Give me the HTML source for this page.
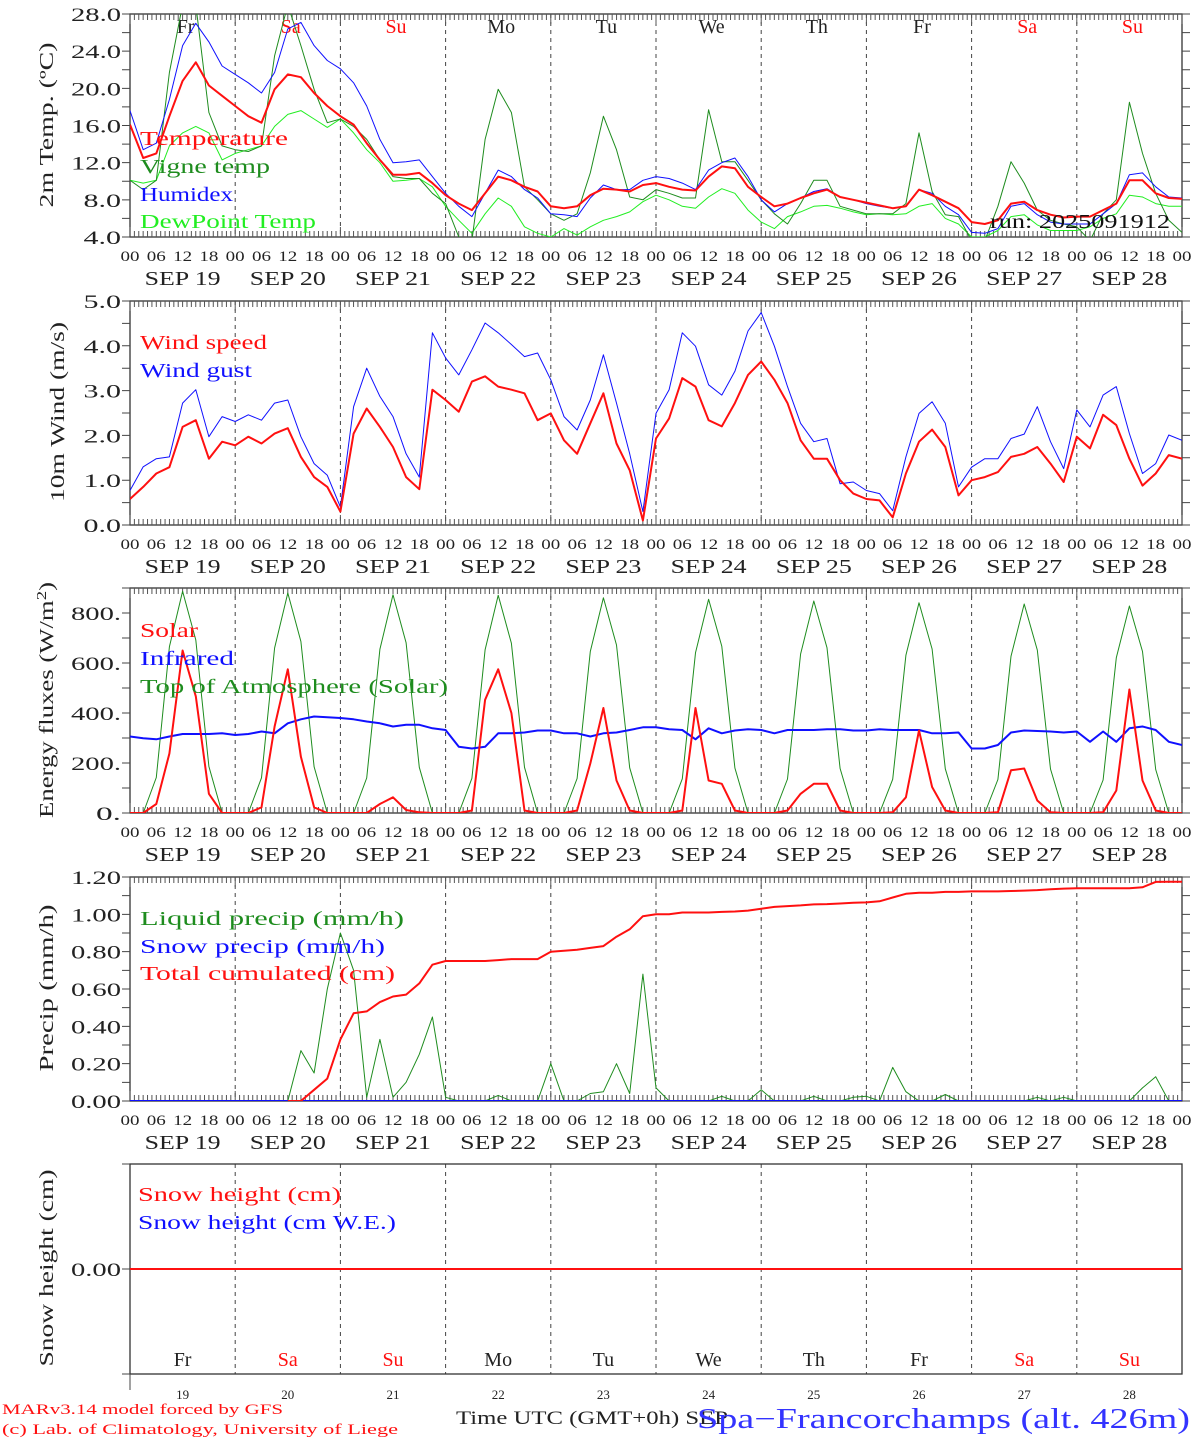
<!DOCTYPE html>
<html>
<head>
<meta charset="utf-8">
<style>
html,body{margin:0;padding:0;background:#fff;}
svg{display:block;font-family:"Liberation Serif",serif;}
</style>
</head>
<body>
<svg id="chart" width="1194" height="1440" viewBox="0 0 1194 1440" xmlns="http://www.w3.org/2000/svg">
<rect x="0" y="0" width="1194" height="1440" fill="#fff"/>
</svg>
<script>
// ---- data (3-hourly, 19 Sep 00 UTC .. 29 Sep 00 UTC) ----
const dayNames = ['Fr','Sa','Su','Mo','Tu','We','Th','Fr','Sa','Su'];
const dateLabels = ['SEP 19','SEP 20','SEP 21','SEP 22','SEP 23','SEP 24','SEP 25','SEP 26','SEP 27','SEP 28'];
const dayNumbers = ['19','20','21','22','23','24','25','26','27','28'];
const hourLabels = ['00','06','12','18'];
const tempTicks = ['28.0','24.0','20.0','16.0','12.0','8.0','4.0'];
const windTicks = ['5.0','4.0','3.0','2.0','1.0','0.0'];
const energyTicks = ['800.','600.','400.','200.','0.'];
const precipTicks = ['1.20','1.00','0.80','0.60','0.40','0.20','0.00'];

const temperature = [16.1,12.5,13.0,17.0,20.8,22.8,20.3,19.2, 18.1,17.0,16.3,19.9,21.5,21.2,19.5,18.1, 17.0,16.1,14.1,12.3,10.7,10.7,10.9,9.8, 8.5,7.6,6.9,8.7,10.5,10.1,9.4,8.9, 7.3,7.1,7.3,8.5,9.2,9.1,8.9,9.6, 9.8,9.4,9.1,9.0,10.5,11.6,11.4,9.4, 8.3,7.3,7.6,8.2,8.7,9.1,8.3,8.0, 7.7,7.4,7.1,7.3,9.1,8.5,7.8,7.1, 5.6,5.4,5.8,7.6,7.8,6.9,6.4,6.1, 6.2,6.2,6.9,7.6,10.1,10.1,8.7,8.2, 8.1];
const vigneTemp = [10.1,9.1,10.1,21.7,29,29,17.4,13.8, 13.4,13.2,13.8,23.5,29,24.6,19.9,16.3, 16.7,15.9,14.5,12.3,10.5,10.3,10.3,8.7, 7.6,4.0,3.6,14.5,19.9,17.4,9.4,8.0, 6.5,5.8,6.5,10.9,17.0,13.4,8.3,8.0, 9.1,8.7,8.2,8.2,17.7,12.1,12.1,10.1, 8.0,6.5,5.4,7.6,10.1,10.1,7.3,6.9, 6.5,6.5,6.5,7.6,15.2,8.9,6.4,6.2, 3.6,3.6,7.3,12.1,9.8,6.9,5.8,5.4, 5.1,3.6,6.5,8.0,18.5,13.0,8.7,5.8, 4.5];
const humidex = [17.6,13.4,14.1,18.8,24.6,27.0,25.0,22.4, 21.5,20.6,19.5,21.7,26.4,27.1,24.6,23.0, 22.1,20.6,18.1,14.5,12.0,12.1,12.3,10.5, 8.7,7.3,6.2,8.7,11.2,10.5,9.1,8.2, 6.5,6.4,6.2,8.2,9.6,9.1,9.1,10.1, 10.5,10.3,9.8,9.1,11.2,12.0,12.5,10.5, 8.0,6.7,7.6,8.2,8.9,9.2,8.3,8.0, 7.6,7.3,7.1,7.3,9.1,8.7,7.3,6.4, 4.5,4.4,4.9,7.3,7.6,6.4,5.6,5.4, 5.4,5.4,6.5,7.6,10.7,10.9,9.4,8.3, 8.2];
const dewPoint = [10.1,9.8,10.1,13.8,15.2,15.9,15.2,12.3, 13.0,13.4,13.8,15.9,17.2,17.6,16.7,15.8, 16.7,15.2,13.4,12.0,10.0,10.1,10.3,9.4, 7.3,5.8,4.4,6.5,8.2,7.3,5.1,4.4, 4.0,4.9,4.2,5.1,5.8,6.2,6.7,7.8, 8.5,8.0,7.3,7.1,8.3,9.2,8.7,6.9, 5.6,4.9,6.2,6.7,7.3,7.4,7.1,6.7, 6.4,6.5,6.4,6.5,7.3,7.6,6.0,5.4, 4.0,4.0,4.7,6.2,6.4,5.3,4.7,4.7, 4.7,5.1,6.0,6.5,8.5,8.3,7.6,7.3, 7.3];

const windSpeed = [0.58,0.85,1.15,1.29,2.19,2.34,1.48,1.86, 1.78,1.97,1.82,2.04,2.16,1.52,1.07,0.85, 0.3,2.04,2.6,2.19,1.74,1.07,0.8,3.02, 2.79,2.53,3.2,3.32,3.09,3.02,2.94,2.34, 2.49,1.89,1.59,2.27,2.94,1.82,1.22,0.1, 1.93,2.38,3.28,3.09,2.34,2.2,2.72,3.35, 3.65,3.24,2.72,1.89,1.48,1.48,1.0,0.7, 0.58,0.55,0.17,1.15,1.86,2.13,1.74,0.66, 1.0,1.07,1.18,1.52,1.59,1.74,1.37,0.96, 1.97,1.71,2.46,2.23,1.48,0.88,1.15,1.56, 1.48];
const windGust = [0.77,1.3,1.48,1.52,2.72,3.02,1.97,2.42, 2.31,2.46,2.34,2.72,2.79,1.97,1.37,1.11, 0.4,2.64,3.5,2.87,2.42,1.59,1.07,4.29, 3.73,3.35,3.91,4.51,4.29,4.03,3.76,3.84, 3.24,2.42,2.12,2.79,3.8,2.72,1.59,0.3, 2.49,3.02,4.29,3.99,3.13,2.9,3.43,4.33, 4.74,3.99,3.09,2.27,1.86,1.93,0.92,0.96, 0.77,0.7,0.32,1.52,2.49,2.75,2.27,0.85, 1.29,1.48,1.48,1.93,2.03,2.64,1.86,1.26, 2.57,2.19,2.9,3.09,2.04,1.15,1.37,2.01, 1.89];

const solar = [0,0,36,238,650,467,77,0, 0,0,23,346,575,225,23,0, 0,0,0,36,63,12,3,0, 0,0,10,453,575,400,10,0, 0,0,10,198,420,130,10,0, 0,0,10,420,130,117,10,0, 0,0,10,77,117,117,10,0, 0,0,3,63,330,104,10,0, 0,0,3,171,178,50,3,0, 0,0,3,90,494,130,10,0, 0];
const infrared = [306,299,295,306,316,316,316,319, 312,316,326,319,359,375,386,383, 380,375,366,359,346,353,353,339, 332,265,258,265,319,319,322,330, 330,319,319,306,319,322,332,343, 343,335,332,295,339,319,330,335, 332,319,332,332,332,335,335,330, 330,335,332,332,332,319,319,322, 258,258,272,322,330,328,326,322, 326,285,326,285,339,346,332,285, 272];
const topOfAtmosphere = [0,0,142,665,887,692,186,0, 0,0,141,660,880,686,185,0, 0,0,140,655,873,681,183,0, 0,0,139,653,871,679,183,0, 0,0,138,646,861,672,181,0, 0,0,137,641,855,667,180,0, 0,0,136,636,848,661,178,0, 0,0,135,631,841,656,177,0, 0,0,134,627,836,652,176,0, 0,0,132,621,828,646,174,0, 0];

const liquidPrecip = [0,0,0,0,0,0,0,0, 0,0,0,0,0,0.27,0.15,0.6, 0.9,0.7,0.02,0.33,0.02,0.1,0.25,0.45, 0.02,0,0,0,0.03,0,0,0, 0.2,0,0,0.04,0.05,0.2,0.04,0.68, 0.07,0,0,0,0,0.025,0,0, 0.06,0,0,0,0.025,0,0,0.02, 0.025,0,0.18,0.05,0,0,0.035,0, 0,0,0,0,0,0.02,0,0.02, 0,0,0,0,0,0.07,0.13,0, 0];
const snowPrecip = [0,0,0,0,0,0,0,0, 0,0,0,0,0,0,0,0, 0,0,0,0,0,0,0,0, 0,0,0,0,0,0,0,0, 0,0,0,0,0,0,0,0, 0,0,0,0,0,0,0,0, 0,0,0,0,0,0,0,0, 0,0,0,0,0,0,0,0, 0,0,0,0,0,0,0,0, 0,0,0,0,0,0,0,0, 0];
const totalCumulated = [0,0,0,0,0,0,0,0, 0,0,0,0,0,0,0.06,0.12, 0.33,0.47,0.48,0.53,0.56,0.57,0.63,0.73, 0.75,0.75,0.75,0.75,0.755,0.76,0.76,0.76, 0.80,0.805,0.81,0.82,0.83,0.88,0.92,0.99, 1.0,1.0,1.01,1.01,1.01,1.013,1.015,1.02, 1.03,1.04,1.044,1.048,1.053,1.055,1.058,1.062, 1.064,1.07,1.09,1.11,1.116,1.116,1.12,1.12, 1.123,1.123,1.123,1.125,1.127,1.13,1.134,1.138, 1.14,1.14,1.14,1.14,1.14,1.145,1.174,1.175, 1.175];
const snowHeight = [0,0,0,0,0,0,0,0, 0,0,0,0,0,0,0,0, 0,0,0,0,0,0,0,0, 0,0,0,0,0,0,0,0, 0,0,0,0,0,0,0,0, 0,0,0,0,0,0,0,0, 0,0,0,0,0,0,0,0, 0,0,0,0,0,0,0,0, 0,0,0,0,0,0,0,0, 0,0,0,0,0,0,0,0, 0];
const snowHeightWE = [0,0,0,0,0,0,0,0, 0,0,0,0,0,0,0,0, 0,0,0,0,0,0,0,0, 0,0,0,0,0,0,0,0, 0,0,0,0,0,0,0,0, 0,0,0,0,0,0,0,0, 0,0,0,0,0,0,0,0, 0,0,0,0,0,0,0,0, 0,0,0,0,0,0,0,0, 0,0,0,0,0,0,0,0, 0];

// ---- layout ----
const NS = 'http://www.w3.org/2000/svg';
const svg = document.getElementById('chart');
const X0 = 130, X1 = 1182, NSTEP = 80, DAYW = (X1 - X0) / 10;
function xs(i){ return X0 + i * (X1 - X0) / NSTEP; }
function mk(tag, attrs, parent){
  const e = document.createElementNS(NS, tag);
  for (const k in attrs) e.setAttribute(k, attrs[k]);
  (parent || svg).appendChild(e);
  return e;
}
function ys(p, v){ return p.bot - (v - p.min) / (p.max - p.min) * (p.bot - p.top); }

const P1 = {top:14, bot:237, min:4, max:28, minor:2, major:4, ticks:tempTicks, name:'temperature-panel'};
const P2 = {top:301, bot:525, min:0, max:5, minor:0.5, major:1, ticks:windTicks, name:'wind-panel'};
const P3 = {top:588, bot:813, min:0, max:900, minor:100, major:200, ticks:energyTicks, name:'energy-panel'};
const P4 = {top:877, bot:1101, min:0, max:1.2, minor:0.1, major:0.2, ticks:precipTicks, name:'precip-panel'};
const P5 = {top:1164, bot:1374, min:-1, max:1, name:'snow-panel'};

function txt(x, y, s, size, color, anchor, len, parent){
  const t = mk('text', {x:x, y:y, 'font-size':size, fill:color, 'text-anchor':anchor||'start'}, parent);
  if (len) { t.setAttribute('textLength', len); t.setAttribute('lengthAdjust', 'spacingAndGlyphs'); }
  t.textContent = s;
  return t;
}

let clipId = 0;
function panelFrame(p, withTicks){
  const g = mk('g', {});
  
  
  const cid = 'clip' + (clipId++);
  const cp = mk('clipPath', {id:cid}, g);
  mk('rect', {x:X0, y:p.top, width:X1-X0, height:p.bot-p.top}, cp);
  p.clip = 'url(#' + cid + ')';
  p.g = g;
  for (let d = 1; d < 10; d++){
    const l = mk('line', {x1:X0+d*DAYW, x2:X0+d*DAYW, y1:p.top, y2:p.bot, stroke:'#444', 'stroke-width':1, 'stroke-dasharray':'4,4'}, g);
    
    
  }
  const fr = mk('rect', {x:X0, y:p.top, width:X1-X0, height:p.bot-p.top, fill:'none', stroke:'#333', 'stroke-width':1.3}, g);
  
  
  if (withTicks){
    let d = '';
    for (let h = 0; h <= 240; h++){
      const x = X0 + h * (X1 - X0) / 240;
      const L = (h % 24 === 0) ? 10 : 6;
      d += 'M' + x + ' ' + p.top + 'v' + L + 'M' + x + ' ' + p.bot + 'v-' + L;
    }
    const hk = mk('path', {d:d, stroke:'#555', 'stroke-width':1, fill:'none'}, g);
    
    
    let d2 = '';
    for (let v = p.min; v <= p.max + 1e-9; v += p.minor){
      const y = ys(p, v);
      d2 += 'M' + (X0-8) + ' ' + y + 'H' + X0 + 'M' + X1 + ' ' + y + 'h8';
    }
    const yk = mk('path', {d:d2, stroke:'#444', 'stroke-width':1, fill:'none'}, g);
    
    
    let v = p.max;
    if (p === P3) v = 800;
    for (let k = 0; k < p.ticks.length; k++){
      const s = p.ticks[k];
      const t = txt(121, ys(p, v) + 7, s, 19, '#222', 'end', s.length * 12.5, g);
      
      
      v -= p.major;
    }
    for (let dd = 0; dd < 10; dd++){
      for (let h = 0; h < 4; h++){
        const t = txt(X0 + dd*DAYW + h*DAYW/4, p.bot + 24, hourLabels[h], 15, '#222', 'middle', 19, g);
        
        
      }
      const dt = txt(X0 + dd*DAYW + DAYW/2, p.bot + 48, dateLabels[dd], 20, '#222', 'middle', 76, g);
      
      
    }
    const tl = txt(X1, p.bot + 24, hourLabels[0], 15, '#222', 'middle', 19, g);
    
    
  }
}

function series(p, arr, color, w, name, start){
  let pts = '';
  for (let i = (start || 0); i < arr.length; i++) pts += xs(i).toFixed(1) + ',' + ys(p, arr[i]).toFixed(1) + ' ';
  const pl = mk('polyline', {points:pts, fill:'none', stroke:color, 'stroke-width':w, 'stroke-linejoin':'round', 'clip-path':p.clip}, p.g);
  
  
}

function legend(p, x, y, s, color, len){
  const t = txt(x, y, s, 20, color, 'start', len, p.g);
  
  
}

function yTitle(cx, cy, s, len){
  const t = txt(0, 0, s, 20, '#222', 'middle', len);
  t.setAttribute('transform', 'translate(' + cx + ',' + cy + ') rotate(-90)');
  
  
  return t;
}

const RED = '#ff1010', BLUE = '#1010ff', DGREEN = '#1e8c1e', LGREEN = '#22ee22';

// Panel 1
panelFrame(P1, true);
for (let d = 0; d < 10; d++){
  const c = (d % 7 === 1 || d % 7 === 2) ? RED : '#222';
  const t = txt(X0 + d*DAYW + DAYW/2 + 3, 33, dayNames[d], 20, c, 'middle', null, P1.g);
  
  
}
series(P1, dewPoint, LGREEN, 1, 'dewpoint-line');
series(P1, vigneTemp, DGREEN, 1, 'vigne-temp-line');
series(P1, humidex, BLUE, 1, 'humidex-line');
series(P1, temperature, RED, 2, 'temperature-line');
legend(P1, 140, 145, 'Temperature', RED, 148);
legend(P1, 140, 173, 'Vigne temp', DGREEN, 130);
legend(P1, 140, 201, 'Humidex', BLUE, 93);
legend(P1, 140, 228, 'DewPoint Temp', LGREEN, 176);
const run = txt(990, 228, 'run: 2025091912', 20, '#111', 'start', 180, P1.g);


yTitle(53, 125, '2m Temp. (ºC)', 165);

// Panel 2
panelFrame(P2, true);
series(P2, windGust, BLUE, 1, 'wind-gust-line');
series(P2, windSpeed, RED, 2, 'wind-speed-line');
legend(P2, 140, 349, 'Wind speed', RED, 127);
legend(P2, 140, 377, 'Wind gust', BLUE, 112);
yTitle(64, 412, '10m Wind (m/s)', 180);

// Panel 3
panelFrame(P3, true);
series(P3, topOfAtmosphere, DGREEN, 1, 'toa-solar-line');
series(P3, infrared, BLUE, 2, 'infrared-line');
series(P3, solar, RED, 2, 'solar-line');
legend(P3, 140, 637, 'Solar', RED, 58);
legend(P3, 140, 665, 'Infrared', BLUE, 94);
legend(P3, 140, 693, 'Top of Atmosphere (Solar)', DGREEN, 308);
const et = yTitle(53, 700, '', 236);
et.textContent = 'Energy fluxes (W/m';
const sup = document.createElementNS(NS, 'tspan');
sup.setAttribute('baseline-shift', 'super');
sup.setAttribute('font-size', '14');
sup.textContent = '2';
et.appendChild(sup);
const cl = document.createElementNS(NS, 'tspan');
cl.textContent = ')';
et.appendChild(cl);

// Panel 4
panelFrame(P4, true);
series(P4, liquidPrecip, DGREEN, 1, 'liquid-precip-line');
series(P4, snowPrecip, BLUE, 2, 'snow-precip-line');
series(P4, totalCumulated, RED, 2, 'total-cumulated-line', 12);
legend(P4, 140, 925, 'Liquid precip (mm/h)', DGREEN, 264);
legend(P4, 140, 953, 'Snow precip (mm/h)', BLUE, 245);
legend(P4, 140, 980, 'Total cumulated (cm)', RED, 255);
yTitle(53, 988, 'Precip (mm/h)', 167);

// Panel 5
panelFrame(P5, false);
const st = mk('path', {d:'M' + (X0-8) + ' ' + P5.top + 'H' + X0 + 'M' + (X0-8) + ' ' + P5.bot + 'H' + X0 + 'M' + (X0-8) + ' ' + ys(P5,0) + 'H' + X0 + 'M' + X0 + ' ' + P5.bot + 'v16', stroke:'#444', fill:'none'}, P5.g);


series(P5, snowHeightWE, BLUE, 2, 'snow-height-we-line');
series(P5, snowHeight, RED, 2, 'snow-height-line');
const z = txt(121, ys(P5, 0) + 7, '0.00', 19, '#222', 'end', 50, P5.g);


legend(P5, 138, 1201, 'Snow height (cm)', RED, 203);
legend(P5, 138, 1229, 'Snow height (cm W.E.)', BLUE, 258);
for (let d = 0; d < 10; d++){
  const c = (d % 7 === 1 || d % 7 === 2) ? RED : '#222';
  const t = txt(X0 + d*DAYW + DAYW/2, 1366, dayNames[d], 20, c, 'middle', null, P5.g);
  
  
  const n = txt(X0 + d*DAYW + DAYW/2, 1399, dayNumbers[d], 13, '#222', 'middle', null, P5.g);
  
  
}
yTitle(53, 1268, 'Snow height (cm)', 197);

// footer
const f1 = txt(2, 1414, 'MARv3.14 model forced by GFS', 15, RED, 'start', 281);


const f2 = txt(2, 1434, '(c) Lab. of Climatology, University of Liege', 15, RED, 'start', 396);


const f3 = txt(456, 1424, 'Time UTC (GMT+0h) SEP', 19, '#222', 'start', 272);


const f4 = txt(697, 1428, 'Spa\u2212Francorchamps (alt. 426m)', 28, '#3333ff', 'start', 493);


</script>
</body>
</html>
